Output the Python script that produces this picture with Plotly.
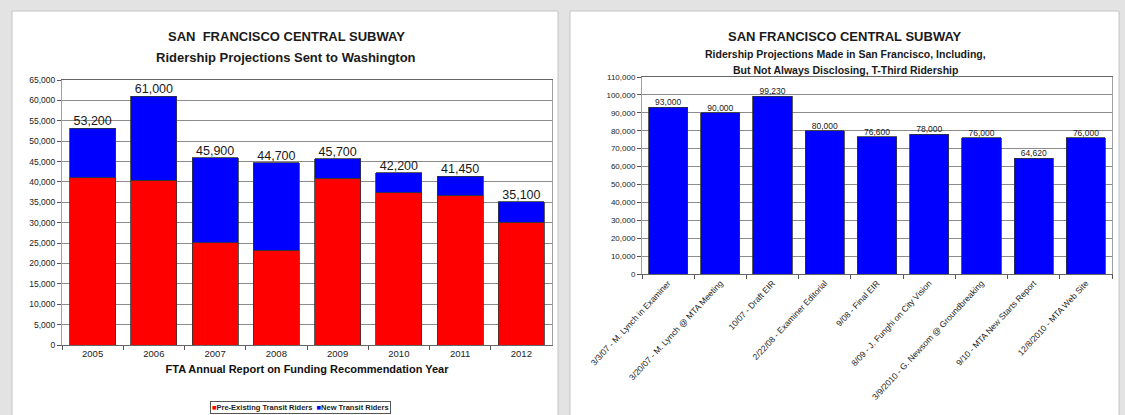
import plotly.graph_objects as go

# ---------------- data ----------------
years = ["2005", "2006", "2007", "2008", "2009", "2010", "2011", "2012"]
pre_existing = [41000, 40400, 25100, 23300, 40900, 37400, 36600, 30100]
new_riders = [12200, 20600, 20800, 21400, 4800, 4800, 4850, 5000]
totals = [53200, 61000, 45900, 44700, 45700, 42200, 41450, 35100]

sf_labels = [
    "3/3/07 - M. Lynch in Examiner",
    "3/20/07 - M. Lynch @ MTA Meeting",
    "10/07 - Draft EIR",
    "2/22/08 - Examiner Editorial",
    "9/08 - Final EIR",
    "8/09 - J. Funghi on City Vision",
    "3/9/2010 - G. Newsom @ Groundbreaking",
    "9/10 - MTA New Starts Report",
    "12/8/2010 - MTA Web Site",
]
sf_values = [93000, 90000, 99230, 80000, 76600, 78000, 76000, 64620, 76000]

W, H = 1125, 415
FONT = "Arial, Liberation Sans, sans-serif"
RED, BLUE = "#FF0000", "#0000FF"


def px(x):
    return x / W


def py(y):
    return 1 - y / H


fig = go.Figure()

# left chart
fig.add_trace(go.Bar(x=years, y=pre_existing, name="Pre-Existing Transit Riders",
                     marker=dict(color=RED, line=dict(color="#333333", width=0.8)),
                     xaxis="x", yaxis="y", showlegend=False))
fig.add_trace(go.Bar(x=years, y=new_riders, name="New Transit Riders",
                     marker=dict(color=BLUE, line=dict(color="#333333", width=0.8)),
                     xaxis="x", yaxis="y", showlegend=False))
fig.add_trace(go.Scatter(x=years, y=totals, mode="text",
                         text=[f"{v:,}" for v in totals], textposition="top center",
                         textfont=dict(size=12.5, color="#1a1a1a", family=FONT),
                         xaxis="x", yaxis="y", showlegend=False, cliponaxis=False))

# right chart
fig.add_trace(go.Bar(x=sf_labels, y=sf_values, name="Projection",
                     marker=dict(color=BLUE, line=dict(color="#333333", width=0.8)),
                     xaxis="x2", yaxis="y2", showlegend=False))
fig.add_trace(go.Scatter(x=sf_labels, y=sf_values, mode="text",
                         text=[f"{v:,}" for v in sf_values], textposition="top center",
                         textfont=dict(size=8.5, color="#222222", family=FONT),
                         xaxis="x2", yaxis="y2", showlegend=False, cliponaxis=False))

grid = "#8c8c8c"
frame = "#a0a0a0"

common_y = dict(showgrid=True, gridcolor=grid, gridwidth=1.3, ticks="outside", ticklen=4,
                tickcolor="#555555", showline=True, linecolor=frame, mirror=True,
                tickformat=",d", zeroline=False, fixedrange=True, automargin=False)
common_x = dict(showline=True, linecolor="#666666", mirror=True, ticks="outside",
                tickson="boundaries", ticklen=4, tickcolor="#555555", showgrid=False,
                automargin=False)

fig.update_layout(
    width=W, height=H, autosize=False,
    margin=dict(l=0, r=0, t=0, b=0, autoexpand=False),
    paper_bgcolor="#e3e3e3", plot_bgcolor="white",
    barmode="stack", bargap=0.25,
    font=dict(family=FONT, color="#222222"),
    xaxis=dict(domain=[px(62), px(552)], anchor="y",
               tickfont=dict(size=9.5, family=FONT, color="#222222"),
               title=dict(text="<b>FTA Annual Report on Funding Recommendation Year</b>",
                          font=dict(size=11, family=FONT, color="#111111"), standoff=6),
               **common_x),
    yaxis=dict(domain=[py(345), py(80)], anchor="x", range=[0, 65000], dtick=5000,
               tickfont=dict(size=8.5, family=FONT, color="#222222"), **common_y),
    xaxis2=dict(domain=[px(642), px(1112)], anchor="y2", tickangle=-47,
                tickfont=dict(size=8.5, family=FONT, color="#222222"),
                **common_x),
    yaxis2=dict(domain=[py(274), py(77)], anchor="x2", range=[0, 110000], dtick=10000,
                tickfont=dict(size=8, family=FONT, color="#222222"), **common_y),
)

# panel backgrounds
fig.add_shape(type="rect", xref="paper", yref="paper", x0=px(12), x1=px(558),
              y0=py(416), y1=py(11), fillcolor="white", line=dict(color="#c4c4c4", width=1),
              layer="below")
fig.add_shape(type="rect", xref="paper", yref="paper", x0=px(570), x1=px(1119),
              y0=py(416), y1=py(11), fillcolor="white", line=dict(color="#c4c4c4", width=1),
              layer="below")

# titles
def title(text, x, y, size):
    fig.add_annotation(text=f"<b>{text}</b>", x=px(x), y=py(y), xref="paper", yref="paper",
                       showarrow=False, xanchor="center", yanchor="middle",
                       font=dict(size=size, family=FONT, color="#1a1a1a"))

title("SAN&nbsp;&nbsp;FRANCISCO CENTRAL SUBWAY", 286, 36, 13)
title("Ridership Projections Sent to Washington", 286, 57, 13)
title("SAN FRANCISCO CENTRAL SUBWAY", 845, 36, 13)
title("Ridership Projections Made in San Francisco, Including,", 845, 54, 10.5)
title("But Not Always Disclosing, T-Third Ridership", 845, 70, 10.5)

# legend (left chart)
fig.add_annotation(
    text=f"<b><span style='color:{RED}'>■</span>Pre-Existing Transit Riders  "
         f"<span style='color:{BLUE}'>■</span>New Transit Riders</b>",
    x=px(300), y=py(407), xref="paper", yref="paper", showarrow=False,
    xanchor="center", yanchor="middle", font=dict(size=7.5, family=FONT, color="#222222"),
    bordercolor="#555555", borderwidth=1, borderpad=1, bgcolor="white")

fig.write_html("out.html", config={"displayModeBar": False},
               post_script="document.body.style.margin='0';document.body.style.overflow='hidden';")
